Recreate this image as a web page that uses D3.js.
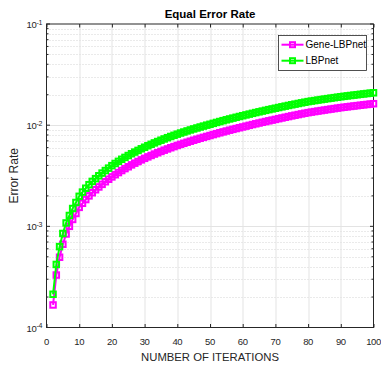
<!DOCTYPE html>
<html>
<head>
<meta charset="utf-8">
<script src="https://cdn.jsdelivr.net/npm/d3@7"></script>
<style>
  html, body { margin: 0; padding: 0; background: #fff; overflow: hidden; }
  svg { display: block; }
  text { font-family: "Liberation Sans", Arial, Helvetica, sans-serif; }
</style>
</head>
<body>
<div id="chart"></div>
<script>
// ----------------------------------
// DATA (error rates, in units of 1e-3)
// ----------------------------------
const iterations = d3.range(2, 101);
const seriesNames = ["Gene-LBPnet", "LBPnet"];
const geneLBPnet = [
  0.167, 0.33, 0.495, 0.665, 0.84, 1.0, 1.17, 1.34, 1.54,
  1.69, 1.84, 2.0, 2.15, 2.3, 2.45, 2.6, 2.76, 2.92, 3.08,
  3.24, 3.4, 3.56, 3.72, 3.88, 4.05, 4.21, 4.37, 4.54, 4.7,
  4.86, 5.02, 5.18, 5.34, 5.5, 5.66, 5.82, 5.98, 6.14, 6.3,
  6.46, 6.62, 6.78, 6.94, 7.1, 7.26, 7.42, 7.58, 7.74, 7.9,
  8.07, 8.24, 8.41, 8.58, 8.75, 8.92, 9.09, 9.26, 9.43, 9.6,
  9.78, 9.96, 10.14, 10.32, 10.5, 10.68, 10.86, 11.04, 11.22, 11.4,
  11.59, 11.78, 11.97, 12.16, 12.35, 12.54, 12.73, 12.92, 13.11, 13.3,
  13.46, 13.62, 13.78, 13.94, 14.1, 14.26, 14.42, 14.58, 14.74, 14.9,
  15.04, 15.18, 15.32, 15.46, 15.6, 15.74, 15.88, 16.02, 16.16, 16.3
];
const lbpnet = [
  0.213, 0.42, 0.63, 0.85, 1.08, 1.28, 1.5, 1.72, 1.98,
  2.18, 2.38, 2.58, 2.78, 2.96, 3.16, 3.36, 3.56, 3.76, 3.98,
  4.18, 4.39, 4.6, 4.8, 5.01, 5.22, 5.42, 5.63, 5.84, 6.05,
  6.26, 6.47, 6.68, 6.89, 7.1, 7.31, 7.52, 7.73, 7.94, 8.15,
  8.36, 8.56, 8.77, 8.97, 9.18, 9.38, 9.59, 9.79, 10.0, 10.2,
  10.42, 10.64, 10.86, 11.08, 11.3, 11.52, 11.74, 11.96, 12.18, 12.4,
  12.63, 12.86, 13.09, 13.32, 13.55, 13.78, 14.01, 14.24, 14.47, 14.7,
  14.94, 15.18, 15.42, 15.66, 15.9, 16.14, 16.38, 16.62, 16.86, 17.1,
  17.3, 17.5, 17.7, 17.9, 18.1, 18.3, 18.5, 18.7, 18.9, 19.1,
  19.28, 19.46, 19.64, 19.82, 20.0, 20.18, 20.36, 20.54, 20.72, 20.9
];
const unit = 1e-3;
const xTicks = [0, 10, 20, 30, 40, 50, 60, 70, 80, 90, 100];
const yTicks = [1e-4, 1e-3, 1e-2, 1e-1];
const colors = ["#ff00ff", "#00ff00"];

const width = 381, height = 365;
const margin = {top: 24, right: 7.5, bottom: 37.5, left: 46.5};
const innerWidth = width - margin.left - margin.right,
  innerHeight = height - margin.top - margin.bottom;

const series = [geneLBPnet, lbpnet].map((vals, i) => ({
  name: seriesNames[i],
  color: colors[i],
  values: iterations.map((it, j) => ({x: it, y: vals[j] * unit}))
}));

// ----------------------------------
// SCALES
// ----------------------------------
const xScale = d3.scaleLinear().domain([0, 100]).range([0, innerWidth]);
const yScale = d3.scaleLog().domain([1e-4, 1e-1]).range([innerHeight, 0]);

const minorY = [];
[1e-4, 1e-3, 1e-2].forEach(d => {
  for (let k = 2; k <= 9; k++) minorY.push(d * k);
});

const svg = d3.select("#chart").append("svg")
  .attr("width", width)
  .attr("height", height);

const g = svg.append("g")
  .attr("transform", `translate(${margin.left},${margin.top})`);

// ----------------------------------
// GRID
// ----------------------------------
g.append("g").selectAll("line")
  .data(minorY)
  .enter().append("line")
    .attr("x1", 0).attr("x2", innerWidth)
    .attr("y1", d => Math.round(yScale(d)) + 0.5)
    .attr("y2", d => Math.round(yScale(d)) + 0.5)
    .style("stroke", "#d4d4d4")
    .style("stroke-dasharray", "1,2");

g.append("g").selectAll("line")
  .data(xTicks.slice(1, -1))
  .enter().append("line")
    .attr("x1", d => Math.round(xScale(d)) + 0.5)
    .attr("x2", d => Math.round(xScale(d)) + 0.5)
    .attr("y1", 0).attr("y2", innerHeight)
    .style("stroke", "#e3e3e3");

g.append("g").selectAll("line")
  .data(yTicks.slice(1, -1))
  .enter().append("line")
    .attr("x1", 0).attr("x2", innerWidth)
    .attr("y1", d => Math.round(yScale(d)) + 0.5)
    .attr("y2", d => Math.round(yScale(d)) + 0.5)
    .style("stroke", "#e3e3e3");

// ----------------------------------
// AXES (tick marks from d3 axes, labels placed in page coordinates)
// ----------------------------------
const axisColor = "#262626";

g.append("g")
  .attr("transform", `translate(0,${innerHeight})`)
  .call(d3.axisBottom(xScale).tickValues(xTicks).tickSize(-3.5).tickFormat(""))
  .call(a => a.select(".domain").remove())
  .call(a => a.selectAll("line").style("stroke", axisColor));

g.append("g")
  .call(d3.axisTop(xScale).tickValues(xTicks).tickSize(-3.5).tickFormat(""))
  .call(a => a.select(".domain").remove())
  .call(a => a.selectAll("line").style("stroke", axisColor));

[0, innerWidth].forEach((xp, side) => {
  const dir = side === 0 ? 1 : -1;
  const ya = g.append("g");
  ya.selectAll("line.major")
    .data(yTicks)
    .enter().append("line")
      .attr("x1", xp).attr("x2", xp + dir * 3.5)
      .attr("y1", d => yScale(d)).attr("y2", d => yScale(d))
      .style("stroke", axisColor);
  ya.selectAll("line.minor")
    .data(minorY)
    .enter().append("line")
      .attr("x1", xp).attr("x2", xp + dir * 2)
      .attr("y1", d => yScale(d)).attr("y2", d => yScale(d))
      .style("stroke", axisColor);
});

// x tick labels
svg.append("g").selectAll("text")
  .data(xTicks)
  .enter().append("text")
    .attr("x", d => margin.left + xScale(d))
    .attr("y", margin.top + innerHeight + 17.5)
    .attr("text-anchor", "middle")
    .style("font-size", "9.5px")
    .style("letter-spacing", "-0.4px")
    .style("fill", axisColor)
    .text(d => d);

// y tick labels as 10^n
const yLabels = svg.append("g").selectAll("text")
  .data(yTicks)
  .enter().append("text")
    .attr("x", margin.left - 4.5)
    .attr("y", d => margin.top + yScale(d) + 4)
    .attr("text-anchor", "end")
    .style("fill", axisColor)
    .style("font-size", "9.5px")
    .style("letter-spacing", "-0.3px");
yLabels.append("tspan").text("10");
yLabels.append("tspan")
  .attr("dy", "-0.5em")
  .style("font-size", "7px")
  .text(d => "-" + Math.round(-Math.log10(d)));

// box
g.append("rect")
  .attr("x", 0).attr("y", 0)
  .attr("width", innerWidth).attr("height", innerHeight)
  .style("fill", "none")
  .style("stroke", axisColor)
  .style("stroke-width", 1);

// ----------------------------------
// LINES AND MARKERS
// ----------------------------------
const line = d3.line().x(d => xScale(d.x)).y(d => yScale(d.y));
const ms = 5.5;

series.forEach(s => {
  const sg = g.append("g");
  sg.append("path")
    .datum(s.values)
    .attr("d", line)
    .style("fill", "none")
    .style("stroke", s.color)
    .style("stroke-width", 2);
  sg.selectAll("rect")
    .data(s.values)
    .enter().append("rect")
      .attr("x", d => xScale(d.x) - ms / 2)
      .attr("y", d => yScale(d.y) - ms / 2)
      .attr("width", ms).attr("height", ms)
      .style("fill", "none")
      .style("stroke", s.color)
      .style("stroke-width", 2);
});

// ----------------------------------
// LEGEND
// ----------------------------------
const legend = svg.append("g").attr("transform", "translate(278.5,35.5)");
legend.append("rect")
  .attr("width", 88).attr("height", 35)
  .style("fill", "#fff")
  .style("stroke", axisColor)
  .style("stroke-width", 0.8);
series.forEach((s, i) => {
  const ly = 9.2 + i * 16;
  legend.append("line")
    .attr("x1", 3).attr("x2", 25)
    .attr("y1", ly).attr("y2", ly)
    .style("stroke", s.color)
    .style("stroke-width", 2);
  legend.append("rect")
    .attr("x", 14 - 2.5).attr("y", ly - 2.5)
    .attr("width", 5).attr("height", 5)
    .style("fill", "none")
    .style("stroke", s.color)
    .style("stroke-width", 2);
  legend.append("text")
    .attr("x", 27).attr("y", ly + 3.5)
    .style("font-size", "10px")
    .style("fill", "#000")
    .text(s.name);
});

// ----------------------------------
// LABELS
// ----------------------------------
svg.append("text")
  .attr("x", margin.left + innerWidth / 2)
  .attr("y", 18)
  .attr("text-anchor", "middle")
  .style("font-size", "11.5px")
  .style("font-weight", "bold")
  .style("fill", "#000")
  .text("Equal Error Rate");

svg.append("text")
  .attr("x", margin.left + innerWidth / 2)
  .attr("y", 361)
  .attr("text-anchor", "middle")
  .style("font-size", "11.3px")
  .style("fill", axisColor)
  .text("NUMBER OF ITERATIONS");

const yLabelY = margin.top + innerHeight / 2;
svg.append("text")
  .attr("x", 18)
  .attr("y", yLabelY)
  .attr("transform", `rotate(-90,18,${yLabelY})`)
  .attr("text-anchor", "middle")
  .style("font-size", "12px")
  .style("fill", axisColor)
  .text("Error Rate");
</script>
</body>
</html>
